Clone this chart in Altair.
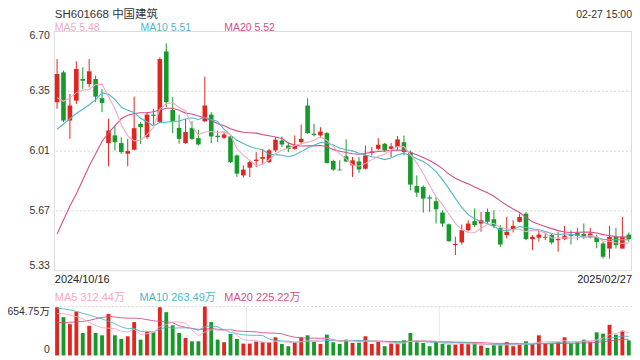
import altair as alt
import pandas as pd
import numpy as np

# ---------------- data ----------------
opens = [6.295, 6.466, 6.190, 6.304, 6.428, 6.399, 6.428, 6.318, 6.061, 6.105,
         6.061, 6.000, 6.023, 6.171, 6.095, 6.224, 6.181, 6.586, 6.251, 6.148,
         6.061, 6.148, 6.089, 6.186, 6.224, 6.103, 6.091, 6.099, 5.990, 5.876,
         5.920, 5.958, 5.971, 5.952, 6.019, 6.076, 6.047, 6.028, 6.066, 6.276,
         6.114, 6.105, 6.118, 5.958, 5.909, 5.985, 5.933, 5.956, 5.914, 6.005,
         6.028, 6.057, 6.028, 6.038, 6.066, 6.009, 5.815, 5.810, 5.750, 5.728,
         5.663, 5.596, 5.477, 5.492, 5.562, 5.614, 5.600, 5.667, 5.625, 5.575,
         5.534, 5.568, 5.610, 5.657, 5.511, 5.519, 5.519, 5.534, 5.505, 5.511,
         5.537, 5.547, 5.541, 5.524, 5.524, 5.486, 5.457, 5.524, 5.457, 5.537]
highs = [6.542, 6.476, 6.342, 6.529, 6.495, 6.542, 6.447, 6.371, 6.200, 6.162,
         6.095, 6.085, 6.327, 6.181, 6.238, 6.257, 6.552, 6.632, 6.323, 6.224,
         6.200, 6.186, 6.137, 6.441, 6.238, 6.133, 6.124, 6.105, 5.996, 5.933,
         5.962, 6.009, 6.028, 6.028, 6.095, 6.099, 6.066, 6.105, 6.167, 6.318,
         6.171, 6.152, 6.124, 5.966, 5.962, 6.082, 5.981, 5.981, 6.047, 6.038,
         6.089, 6.062, 6.062, 6.101, 6.104, 6.019, 5.876, 5.819, 5.762, 5.752,
         5.676, 5.600, 5.524, 5.595, 5.619, 5.686, 5.667, 5.686, 5.676, 5.591,
         5.638, 5.619, 5.657, 5.667, 5.534, 5.562, 5.547, 5.543, 5.553, 5.587,
         5.562, 5.575, 5.600, 5.575, 5.537, 5.496, 5.587, 5.575, 5.638, 5.549]
lows = [6.257, 6.181, 6.085, 6.285, 6.371, 6.380, 6.295, 6.238, 5.928, 6.019,
        6.000, 5.928, 6.019, 6.057, 6.085, 6.162, 6.175, 6.266, 6.118, 6.057,
        6.057, 6.080, 6.047, 6.181, 6.061, 6.066, 6.085, 5.947, 5.867, 5.863,
        5.867, 5.924, 5.943, 5.947, 6.009, 6.038, 6.009, 6.023, 6.053, 6.114,
        6.099, 6.091, 5.943, 5.901, 5.903, 5.952, 5.867, 5.891, 5.910, 5.990,
        6.019, 6.009, 5.981, 6.019, 5.990, 5.790, 5.752, 5.663, 5.667, 5.600,
        5.581, 5.496, 5.419, 5.480, 5.556, 5.581, 5.553, 5.600, 5.575, 5.467,
        5.515, 5.549, 5.606, 5.505, 5.448, 5.496, 5.505, 5.480, 5.439, 5.505,
        5.480, 5.505, 5.511, 5.515, 5.458, 5.400, 5.400, 5.457, 5.457, 5.496]
closes = [6.456, 6.190, 6.276, 6.485, 6.418, 6.472, 6.327, 6.291, 6.133, 6.066,
          6.009, 6.015, 6.146, 6.152, 6.224, 6.217, 6.542, 6.295, 6.186, 6.085,
          6.124, 6.085, 6.053, 6.276, 6.099, 6.095, 6.110, 5.952, 5.886, 5.909,
          5.952, 5.966, 5.981, 6.019, 6.080, 6.053, 6.028, 6.047, 6.085, 6.118,
          6.107, 6.127, 5.947, 5.909, 5.905, 5.956, 5.962, 5.910, 5.990, 6.013,
          6.051, 6.019, 6.042, 6.082, 6.009, 5.823, 5.777, 5.743, 5.743, 5.682,
          5.600, 5.499, 5.484, 5.562, 5.600, 5.591, 5.619, 5.610, 5.587, 5.480,
          5.553, 5.587, 5.638, 5.511, 5.524, 5.537, 5.524, 5.492, 5.511, 5.530,
          5.530, 5.530, 5.524, 5.543, 5.495, 5.410, 5.524, 5.477, 5.524, 5.511]
volumes = [646, 513, 420, 588, 301, 398, 301, 270, 557, 270,
           221, 257, 447, 212, 314, 310, 646, 580, 403, 301,
           234, 190, 190, 655, 447, 212, 177, 288, 221, 159,
           159, 186, 177, 177, 243, 155, 124, 177, 243, 270,
           181, 155, 279, 177, 155, 212, 168, 168, 257, 155,
           181, 124, 159, 159, 203, 301, 177, 168, 124, 190,
           155, 146, 146, 159, 159, 159, 133, 102, 146, 146,
           177, 124, 146, 190, 159, 270, 159, 159, 177, 243,
           159, 177, 212, 177, 310, 292, 411, 279, 332, 203]

# moving-average values at the start of the window (they need earlier days)
ma5_head = [6.32, 6.30, 6.32, 6.35]
ma10_head = [6.14, 6.17, 6.20, 6.23, 6.255, 6.28, 6.31, 6.35, 6.34]
ma20_head = [5.54, 5.62, 5.70, 5.77, 5.85, 5.93, 6.00, 6.07, 6.12, 6.16,
             6.20, 6.22, 6.23, 6.235, 6.235, 6.24, 6.25, 6.26, 6.26]
vma5_head = [560, 560, 540, 520]
vma10_head = [633, 625, 610, 590, 565, 540, 515, 490, 460]
vma20_head = [440, 440, 445, 450, 456, 470, 490, 510, 522, 515,
              505, 500, 500, 495, 480, 465, 456, 450, 440]

price_ticks = [6.70, 6.3575, 6.015, 5.6725, 5.33]
price_tick_labels = ["6.70", "6.35", "6.01", "5.67", "5.33"]
vol_ticks = [654.75, 0]
vol_tick_labels = ["654.75万", "0"]

title_text = "SH601668 中国建筑"
time_text = "02-27 15:00"
start_date = "2024/10/16"
end_date = "2025/02/27"
price_legend = ["MA5 5.48", "MA10 5.51", "MA20 5.52"]
vol_legend = ["MA5 312.44万", "MA10 263.49万", "MA20 225.22万"]

# ---------------- styles ----------------
RED = "#e0261e"
GREEN = "#189a2b"
C5 = "#f3a8c4"
C10 = "#4fb6c8"
C20 = "#d2508a"
FONT = "Arial, Liberation Sans, Noto Sans CJK SC"
TXT = "#333333"

n = len(closes)
df = pd.DataFrame({"i": list(range(n)), "open": opens, "high": highs,
                   "low": lows, "close": closes, "vol": volumes})
df["zero"] = 0.0
df["dir"] = np.where(df["close"] >= df["open"], "up", "down")


def ma(series, w, head):
    r = series.rolling(w).mean()
    r.iloc[:len(head)] = head
    return r


df["ma5"] = ma(df["close"], 5, ma5_head)
df["ma10"] = ma(df["close"], 10, ma10_head)
df["ma20"] = ma(df["close"], 20, ma20_head)
df["vma5"] = ma(df["vol"].astype(float), 5, vma5_head)
df["vma10"] = ma(df["vol"].astype(float), 10, vma10_head)
df["vma20"] = ma(df["vol"].astype(float), 20, vma20_head)

W, H = 580, 325
xs = alt.Scale(type="band", domain=list(range(n)), paddingInner=0, paddingOuter=0)
py = alt.Scale(domain=[5.33, 6.70], range=[240, 0], nice=False, zero=False)
vy = alt.Scale(domain=[0, 654.75], range=[325, 276], nice=False, zero=False)
cs = alt.Scale(domain=["up", "down"], range=[RED, GREEN])

X = alt.X("i:O", scale=xs, axis=None)
base = alt.Chart(df)

layers = []

# price frame + grid
grid_df = pd.DataFrame({"v": price_ticks[1:4]})
layers.append(alt.Chart(grid_df).mark_rule(color="#d6d6d6", strokeDash=[2, 2], strokeWidth=1)
              .encode(y=alt.Y("v:Q", scale=py, axis=None)))
frame_df = pd.DataFrame({"v": [price_ticks[0], price_ticks[-1]]})
layers.append(alt.Chart(frame_df).mark_rule(color="#dcdcdc", strokeWidth=1)
              .encode(y=alt.Y("v:Q", scale=py, axis=None)))
side_df = pd.DataFrame({"lo": [5.33, 5.33], "hi": [6.70, 6.70], "xp": [0.5, W - 0.5]})
layers.append(alt.Chart(side_df).mark_rule(color="#dcdcdc", strokeWidth=1)
              .encode(x=alt.X("xp:Q", scale=alt.Scale(domain=[0, W], range=[0, W]), axis=None),
                      y=alt.Y("lo:Q", scale=py, axis=None), y2="hi:Q"))

# volume grid
vgrid_df = pd.DataFrame({"v": [654.75]})
layers.append(alt.Chart(vgrid_df).mark_rule(color="#d6d6d6", strokeDash=[2, 2], strokeWidth=1)
              .encode(y=alt.Y("v:Q", scale=vy, axis=None)))
vside_df = pd.DataFrame({"lo": [0, 0], "hi": [654.75, 654.75], "xp": [W / 3, 2 * W / 3]})
layers.append(alt.Chart(vside_df).mark_rule(color="#e6e6e6", strokeWidth=1)
              .encode(x=alt.X("xp:Q", scale=alt.Scale(domain=[0, W], range=[0, W]), axis=None),
                      y=alt.Y("lo:Q", scale=vy, axis=None), y2="hi:Q"))

# candles
layers.append(base.mark_rule(strokeWidth=1).encode(
    x=X, y=alt.Y("low:Q", scale=py, axis=None), y2="high:Q",
    color=alt.Color("dir:N", scale=cs, legend=None)))
layers.append(base.mark_bar(width=alt.RelativeBandSize(0.72)).encode(
    x=X, y=alt.Y("open:Q", scale=py, axis=None), y2="close:Q",
    color=alt.Color("dir:N", scale=cs, legend=None)))

# volume bars
layers.append(base.mark_bar(width=alt.RelativeBandSize(0.6)).encode(
    x=X, y=alt.Y("vol:Q", scale=vy, axis=None), y2="zero:Q",
    color=alt.Color("dir:N", scale=cs, legend=None)))

# MA lines
for col, c in [("ma20", C20), ("ma10", C10), ("ma5", C5)]:
    layers.append(base.mark_line(color=c, strokeWidth=1.1).encode(
        x=X, y=alt.Y(f"{col}:Q", scale=py, axis=None)))
for col, c in [("vma20", C20), ("vma10", C10), ("vma5", C5)]:
    layers.append(base.mark_line(color=c, strokeWidth=1, opacity=0.9).encode(
        x=X, y=alt.Y(f"{col}:Q", scale=vy, axis=None)))

# y labels
lab = pd.DataFrame({"v": price_ticks, "t": price_tick_labels})
for sub, bl in [(lab.iloc[[0]], "top"), (lab.iloc[1:4], "middle"), (lab.iloc[[4]], "bottom")]:
    layers.append(alt.Chart(sub).mark_text(align="right", baseline=bl, fontSize=10.5,
                                           font=FONT, color=TXT)
                  .encode(x=alt.value(-4), y=alt.Y("v:Q", scale=py, axis=None), text="t:N"))
vlab = pd.DataFrame({"v": vol_ticks, "t": vol_tick_labels})
for sub, bl in [(vlab.iloc[[0]], "top"), (vlab.iloc[[1]], "bottom")]:
    layers.append(alt.Chart(sub).mark_text(align="right", baseline=bl, fontSize=10.5,
                                           font=FONT, color=TXT)
                  .encode(x=alt.value(-4), y=alt.Y("v:Q", scale=vy, axis=None), text="t:N"))


def label(txt, xp, yp, color, size, align="left"):
    return alt.Chart(pd.DataFrame({"t": [txt]})).mark_text(
        align=align, baseline="middle", fontSize=size, font=FONT, color=color
    ).encode(x=alt.value(xp), y=alt.value(yp), text="t:N")


layers.append(label(title_text, 1, -16.5, TXT, 11.5))
layers.append(label(time_text, W, -16.5, TXT, 10.5, align="right"))
for txt, xp, c in zip(price_legend, [1, 87, 171], [C5, C10, C20]):
    layers.append(label(txt, xp, -3.5, c, 10.5))
layers.append(label(start_date, 1, 249, "#222222", 11))
layers.append(label(end_date, W, 249, "#222222", 11, align="right"))
for txt, xp, c in zip(vol_legend, [1, 86, 171], [C5, C10, C20]):
    layers.append(label(txt, xp, 267, c, 11))

chart = alt.layer(*layers).resolve_scale(y="independent", x="independent").properties(
    width=W, height=H,
    autosize=alt.AutoSizeParams(type="none"),
    padding={"left": 46, "top": 23, "right": 0, "bottom": 2},
).configure_view(stroke=None)

chart.save("out.html", embed_options={"renderer": "svg", "actions": False})
